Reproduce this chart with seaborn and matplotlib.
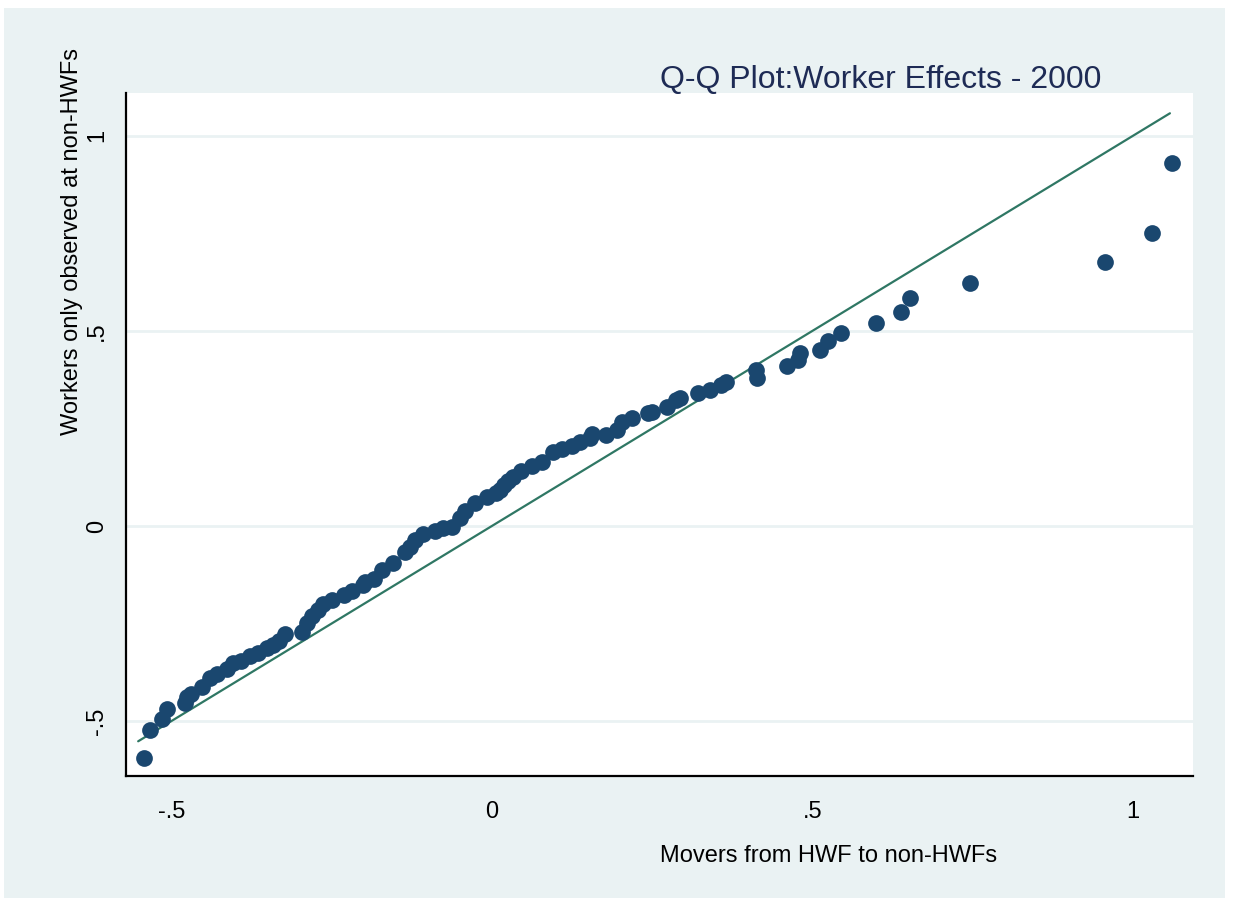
import matplotlib
matplotlib.use("Agg")
import matplotlib.pyplot as plt
import seaborn as sns
import pandas as pd
from matplotlib.patches import Rectangle

# quantiles
movers_q = [-0.543, -0.534, -0.515, -0.507, -0.479, -0.476, -0.470, -0.453, -0.440, -0.429,
            -0.414, -0.404, -0.392, -0.378, -0.365, -0.351, -0.342, -0.332, -0.323, -0.297,
            -0.289, -0.280, -0.271, -0.263, -0.250, -0.231, -0.218, -0.201, -0.198, -0.184,
            -0.172, -0.154, -0.136, -0.128, -0.120, -0.107, -0.089, -0.076, -0.063, -0.050,
            -0.042, -0.027, -0.008, 0.007, 0.012, 0.019, 0.025, 0.033, 0.046, 0.062,
            0.078, 0.095, 0.110, 0.125, 0.138, 0.153, 0.156, 0.178, 0.195, 0.203,
            0.219, 0.243, 0.250, 0.273, 0.288, 0.294, 0.321, 0.340, 0.358, 0.365,
            0.412, 0.413, 0.461, 0.478, 0.480, 0.512, 0.525, 0.544, 0.600, 0.638,
            0.653, 0.746, 0.956, 1.030, 1.062]
stayers_q = [-0.594, -0.522, -0.495, -0.470, -0.454, -0.438, -0.431, -0.412, -0.390, -0.379,
             -0.367, -0.352, -0.345, -0.333, -0.326, -0.314, -0.306, -0.295, -0.276, -0.273,
             -0.250, -0.231, -0.215, -0.200, -0.190, -0.176, -0.167, -0.151, -0.144, -0.135,
             -0.113, -0.095, -0.066, -0.053, -0.037, -0.021, -0.012, -0.006, -0.002, 0.021,
             0.039, 0.060, 0.073, 0.084, 0.092, 0.105, 0.115, 0.126, 0.142, 0.154,
             0.165, 0.189, 0.197, 0.206, 0.215, 0.226, 0.235, 0.233, 0.246, 0.267,
             0.278, 0.289, 0.292, 0.306, 0.323, 0.329, 0.341, 0.349, 0.362, 0.370,
             0.400, 0.380, 0.411, 0.425, 0.443, 0.451, 0.473, 0.494, 0.521, 0.549,
             0.585, 0.624, 0.678, 0.751, 0.930]

# 45 degree reference line
ref_x = [-0.552, 1.058]
ref_y = [-0.552, 1.058]

xticks = [-0.5, 0, 0.5, 1]
xtick_labels = ['-.5', '0', '.5', '1']
yticks = [-0.5, 0, 0.5, 1]
ytick_labels = ['-.5', '0', '.5', '1']

title = 'Q-Q Plot:Worker Effects - 2000'
xlab = 'Movers from HWF to non-HWFs'
ylab = 'Workers only observed at non-HWFs'

navy = '#1a476f'
green = '#2f7764'
panel = '#eaf2f3'

sns.set_style('white')
plt.rcParams['font.family'] = ['Liberation Sans', 'DejaVu Sans']

W, H = 1258, 898
fig = plt.figure(figsize=(W / 100, H / 100), dpi=100, facecolor='white')
fig.patches.append(Rectangle((4 / W, 0), (1225 - 4) / W, (H - 8) / H,
                             transform=fig.transFigure, facecolor=panel,
                             edgecolor='none', zorder=-10))

ax = fig.add_axes([126 / W, 1 - 776 / H, (1193 - 126) / W, (776 - 93) / H])
ax.set_zorder(1)
ax.set_facecolor('white')

df = pd.DataFrame({'movers': movers_q, 'stayers': stayers_q})
line_df = pd.DataFrame({'x': ref_x, 'y': ref_y})

sns.lineplot(data=line_df, x='x', y='y', color=green, linewidth=1.6, ax=ax, zorder=2)
sns.scatterplot(data=df, x='movers', y='stayers', color=navy, s=145,
                linewidth=0, ax=ax, zorder=3)

ax.set_xlim(-0.571, 1.094)
ax.set_ylim(-0.641, 1.110)

ax.set_xticks(xticks, labels=xtick_labels)
ax.set_yticks(yticks, labels=ytick_labels)
for lbl in ax.get_yticklabels():
    lbl.set_rotation(90)
    lbl.set_va('center')
ax.tick_params(axis='both', direction='out', length=9, width=1.3, color='black',
               labelsize=17, labelcolor='black')
ax.tick_params(axis='x', pad=9)
ax.tick_params(axis='y', pad=4)

ax.grid(axis='y', color=panel, linewidth=2)
ax.grid(axis='x', visible=False)
ax.set_axisbelow(True)

for side in ['top', 'right']:
    ax.spines[side].set_visible(False)
for side in ['left', 'bottom']:
    ax.spines[side].set_color('black')
    ax.spines[side].set_linewidth(1.6)

ax.set_xlabel('')
ax.set_ylabel('')

fig.text(660 / W, 1 - 88 / H, title, fontsize=23, color='#1e2b55',
         ha='left', va='baseline')
fig.text(660 / W, 1 - 862 / H, xlab, fontsize=17, color='black',
         ha='left', va='baseline')
fig.text(72 / W, 1 - 435 / H, ylab, fontsize=17, color='black',
         rotation=90, ha='center', va='bottom')

fig.savefig('out.png', dpi=100, facecolor=fig.get_facecolor())
